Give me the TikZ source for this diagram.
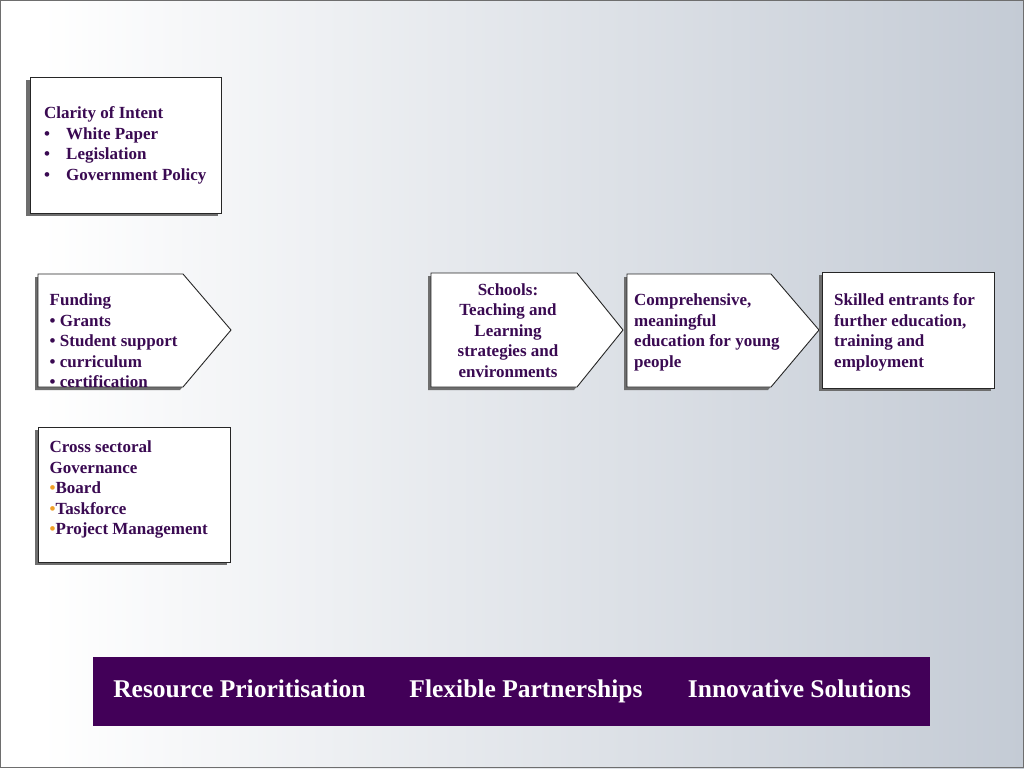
\documentclass[tikz,border=0pt]{standalone}
\usepackage{fontspec}
\setmainfont{Liberation Serif}
\definecolor{txtpurple}{RGB}{58,10,82}
\definecolor{barpurple}{RGB}{66,0,88}
\definecolor{bulorange}{RGB}{240,160,40}
\definecolor{shadowgray}{RGB}{110,110,110}
\definecolor{bgright}{RGB}{196,203,213}
\definecolor{framegray}{RGB}{110,110,110}
\tikzset{
  boxtxt/.style={inner sep=0pt, anchor=base west, text=txtpurple, font=\fontsize{17}{20.4}\selectfont\bfseries},
  boxtxtc/.style={boxtxt, anchor=base},
  bartxt/.style={inner sep=0pt, anchor=base, text=white, font=\fontsize{25.5}{30}\selectfont\bfseries},
  boxshape/.style={fill=white, draw=black!85, line width=0.9pt},
  shadowshape/.style={fill=shadowgray, draw=none}
}
\begin{document}
\begin{tikzpicture}[x=1pt,y=-1pt]
\useasboundingbox (0,0) rectangle (1024,768);
% background
\shade[left color=white, right color=bgright] (40,0) rectangle (1024,768);
\fill[white] (0,0) rectangle (40,768);
\draw[framegray, line width=1pt] (0.5,0.5) rectangle (1023.5,767.5);

% Clarity of Intent
\fill[shadowshape] (26,80) rectangle (218,216);
\draw[boxshape] (30,77) rectangle (221,213);
\node[boxtxt] (c0) at (44,118.5) {Clarity of Intent};
\node[boxtxt] (c1b) at (44,139) {•};
\node[boxtxt] (c1) at (66,139) {White Paper};
\node[boxtxt] (c2b) at (44,159.5) {•};
\node[boxtxt] (c2) at (66,159.5) {Legislation};
\node[boxtxt] (c3b) at (44,180) {•};
\node[boxtxt] (c3) at (66,180) {Government Policy};

% Funding (pentagon)
\fill[shadowshape] (35,277) -- (180,277) -- (228,333) -- (180,390) -- (35,390) -- cycle;
\draw[boxshape] (38,274) -- (183,274) -- (231,330) -- (183,387) -- (38,387) -- cycle;
\node[boxtxt] (f0) at (49.5,305.3) {Funding};
\node[boxtxt] (f1) at (49.5,326) {• Grants};
\node[boxtxt] (f2) at (49.5,346.5) {• Student support};
\node[boxtxt] (f3) at (49.5,367) {• curriculum};
\node[boxtxt] (f4) at (49.5,387) {• certification};

% Cross sectoral Governance
\fill[shadowshape] (35,430) rectangle (227,565);
\draw[boxshape] (38,427) rectangle (230,562);
\node[boxtxt] (g0) at (49.5,452.7) {Cross sectoral};
\node[boxtxt] (g1) at (49.5,473.2) {Governance};
\node[boxtxt] (g2) at (49.5,493.7) {\textcolor{bulorange}{•}Board};
\node[boxtxt] (g3) at (49.5,514.2) {\textcolor{bulorange}{•}Taskforce};
\node[boxtxt] (g4) at (49.5,534.7) {\textcolor{bulorange}{•}Project Management};

% Schools (pentagon)
\fill[shadowshape] (428,276) -- (574,276) -- (620,333) -- (574,390) -- (428,390) -- cycle;
\draw[boxshape] (431,273) -- (577,273) -- (623,330) -- (577,387) -- (431,387) -- cycle;
\node[boxtxtc] (s0) at (508,295) {Schools:};
\node[boxtxtc] (s1) at (508,315.5) {Teaching and};
\node[boxtxtc] (s2) at (508,336) {Learning};
\node[boxtxtc] (s3) at (508,356.5) {strategies and};
\node[boxtxtc] (s4) at (508,377) {environments};

% Comprehensive (pentagon)
\fill[shadowshape] (624,277) -- (768,277) -- (816,333) -- (768,390) -- (624,390) -- cycle;
\draw[boxshape] (627,274) -- (771,274) -- (819,330) -- (771,387) -- (627,387) -- cycle;
\node[boxtxt] (m0) at (634,305.3) {Comprehensive,};
\node[boxtxt] (m1) at (634,326) {meaningful};
\node[boxtxt] (m2) at (634,346.5) {education for young};
\node[boxtxt] (m3) at (634,367) {people};

% Skilled entrants
\fill[shadowshape] (819,275) rectangle (991,391);
\draw[boxshape] (822,272) rectangle (994,388);
\node[boxtxt] (k0) at (834,305.3) {Skilled entrants for};
\node[boxtxt] (k1) at (834,326) {further education,};
\node[boxtxt] (k2) at (834,346.5) {training and};
\node[boxtxt] (k3) at (834,367) {employment};

% Bottom bar
\fill[barpurple] (93,657) rectangle (930,726);
\node[bartxt] (b1) at (239.5,697) {Resource Prioritisation};
\node[bartxt] (b2) at (526,697) {Flexible Partnerships};
\node[bartxt] (b3) at (799.5,697) {Innovative Solutions};
\end{tikzpicture}
\end{document}
